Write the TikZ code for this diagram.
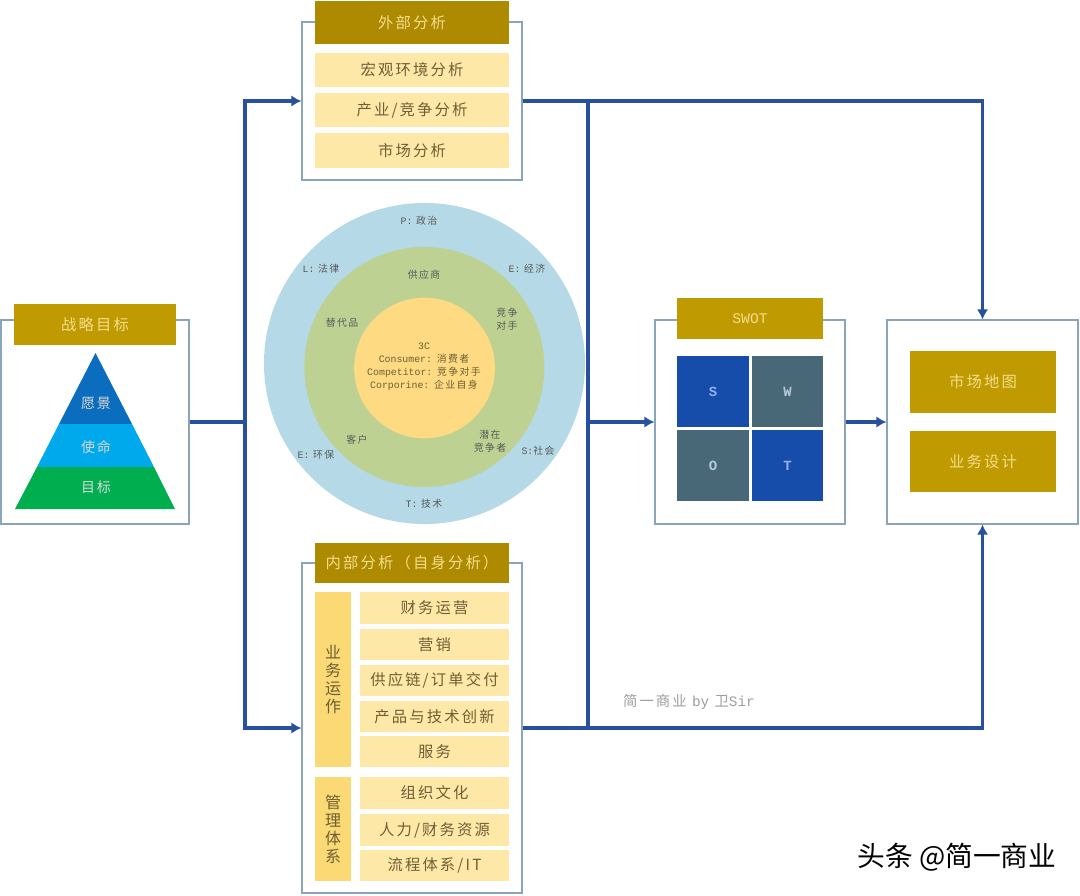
\documentclass[tikz,border=0pt]{standalone}
\usepackage{fontspec}
\setmainfont{Noto Sans CJK SC}
\newfontfamily\cjk[LetterSpace=14]{Noto Sans CJK SC}
\newfontfamily\lat{Liberation Mono}
\usetikzlibrary{arrows.meta}
\definecolor{frameC}{HTML}{8AA5BA}
\definecolor{goldA}{HTML}{BF9A00}
\definecolor{goldB}{HTML}{AD8A00}
\definecolor{itemC}{HTML}{FEE8A8}
\definecolor{colC}{HTML}{FBD975}
\definecolor{itemT}{HTML}{6E5E34}
\definecolor{headT}{HTML}{F6DD8C}
\definecolor{blueT}{HTML}{174DAA}
\definecolor{slateT}{HTML}{486878}
\definecolor{lineC}{HTML}{27509F}
\definecolor{outerC}{HTML}{B5D9E7}
\definecolor{midC}{HTML}{BDD292}
\definecolor{innerC}{HTML}{FEDB82}
\definecolor{pyrA}{HTML}{0A6DBE}
\definecolor{pyrB}{HTML}{00A8EC}
\definecolor{pyrC}{HTML}{00AE50}
\definecolor{tileSoft}{HTML}{8FB4EE}
\definecolor{tileGrey}{HTML}{B5CAD6}
\tikzset{
  x=0.75pt,y=-0.75pt,
  pframe/.style={draw=frameC,line width=0.85pt,fill=white},
  head/.style={fill=goldB,text=headT,font=\cjk\fontsize{11.5}{14}\selectfont},
  headlight/.style={fill=goldA,text=headT,font=\cjk\fontsize{11.5}{14}\selectfont},
  item/.style={fill=itemC,text=itemT,font=\cjk\fontsize{11.5}{14}\selectfont},
  col/.style={fill=colC,text=itemT,align=center,font=\cjk\fontsize{12}{13.5}\selectfont},
  tile/.style={font=\lat\bfseries\fontsize{10.5}{12}\selectfont},
  ctext/.style={inner sep=0pt,align=center,text=#1,font=\cjk\fontsize{7.4}{10}\selectfont},
  ctext/.default=black!65,
  pyr/.style={inner sep=0pt,text=white!85!black,font=\cjk\fontsize{10.5}{12}\selectfont},
  conn/.style={draw=lineC,line width=2.6pt},
  arrowed/.style={conn,-{Latex[length=7.5pt,width=8.5pt]}},
}
% \bx{name}{x0}{y0}{x1}{y1}{style}{text}
\newcommand{\bx}[7]{%
  \pgfmathsetmacro{\bxw}{(#4-#2)*0.75}%
  \pgfmathsetmacro{\bxh}{(#5-#3)*0.75}%
  \node[rectangle,inner sep=0pt,minimum width=\bxw pt,minimum height=\bxh pt,#6]
    (#1) at ({(#2+#4)/2},{(#3+#5)/2}) {#7};%
}
\begin{document}
\begin{tikzpicture}
\useasboundingbox (0,0) rectangle (1080,895);
\fill[white] (0,0) rectangle (1080,895);

% frames
\bx{goal}{1}{320}{189}{524}{pframe}{}
\bx{ext}{302}{22}{522}{180}{pframe}{}
\bx{int}{302}{563}{522}{893}{pframe}{}
\bx{swot}{655}{320}{845}{524}{pframe}{}
\bx{res}{887}{320}{1078}{524}{pframe}{}

% left block
\bx{goalh}{14}{304}{176}{345}{headlight}{战略目标}
\fill[pyrA] (95.5,353) -- (132,424) -- (59,424) -- cycle;
\fill[pyrB] (59,424) -- (132,424) -- (154,467) -- (37,467) -- cycle;
\fill[pyrC] (37,467) -- (154,467) -- (175,509) -- (15,509) -- cycle;
\node[pyr] (p1) at (96,403) {愿景};
\node[pyr] (p2) at (96,447) {使命};
\node[pyr] (p3) at (96,487) {目标};

% external
\bx{exth}{315}{1}{509}{44}{head}{外部分析}
\bx{e1}{315}{53}{509}{87}{item}{宏观环境分析}
\bx{e2}{315}{93}{509}{127}{item}{产业/竞争分析}
\bx{e3}{315}{133}{509}{168}{item}{市场分析}

% internal
\bx{inth}{315}{543}{509}{583}{head}{内部分析（自身分析）}
\bx{c1}{315}{592}{351}{767}{col}{业\\务\\运\\作}
\bx{c2}{315}{777}{351}{881}{col}{管\\理\\体\\系}
\bx{i1}{360}{592}{509}{624}{item}{财务运营}
\bx{i2}{360}{629}{509}{660}{item}{营销}
\bx{i3}{360}{665}{509}{696}{item}{供应链/订单交付}
\bx{i4}{360}{701}{509}{732}{item}{产品与技术创新}
\bx{i5}{360}{736}{509}{767}{item}{服务}
\bx{i6}{360}{777}{509}{809}{item}{组织文化}
\bx{i7}{360}{814}{509}{846}{item}{人力/财务资源}
\bx{i8}{360}{850}{509}{881}{item}{流程体系/IT}

% circles
\node[circle,fill=outerC,inner sep=0pt,minimum size=240.8pt] (co) at (424.5,363.5) {};
\node[circle,fill=midC,inner sep=0pt,minimum size=180pt] (cm) at (424.3,367) {};
\node[circle,fill=innerC,inner sep=0pt,minimum size=105.5pt] (ci) at (424.5,368) {};
\node[ctext] (t1) at (419,221) {{\lat P:} 政治};
\node[ctext] (t2) at (321,269) {{\lat L:} 法律};
\node[ctext] (t3) at (527,269) {{\lat E:} 经济};
\node[ctext] (t4) at (424,275) {供应商};
\node[ctext] (t5) at (342,323) {替代品};
\node[ctext] (t6) at (507,319) {竞争\\对手};
\node[ctext=itemT] (t7) at (424,367) {{\lat 3C}\\[-0.2pt]{\lat Consumer:} 消费者\\[-0.2pt]{\lat Competitor:} 竞争对手\\[-0.2pt]{\lat Corporine:} 企业自身};
\node[ctext] (t8) at (357,440) {客户};
\node[ctext] (t9) at (490,441) {潜在\\竞争者};
\node[ctext] (t10) at (316,455) {{\lat E:} 环保};
\node[ctext] (t11) at (538,451) {{\lat S:}社会};
\node[ctext] (t12) at (424,504) {{\lat T:} 技术};

% SWOT
\bx{swoth}{677}{298}{823}{339}{headlight,font=\lat\fontsize{11}{14}\selectfont}{SWOT}
\bx{ss}{677}{356}{749}{427}{fill=blueT,text=tileSoft,tile}{S}
\bx{sw}{752}{356}{823}{427}{fill=slateT,text=tileGrey,tile}{W}
\bx{so}{677}{430}{749}{501}{fill=slateT,text=tileGrey,tile}{O}
\bx{st}{752}{430}{823}{501}{fill=blueT,text=tileSoft,tile}{T}

% results
\bx{r1}{910}{351}{1056}{413}{headlight}{市场地图}
\bx{r2}{910}{431}{1056}{492}{headlight}{业务设计}

% connectors
\coordinate (busa) at (245,422);
\coordinate (busb) at (588,422);
\draw[conn] (goal.east) -- (busa);
\draw[arrowed] (busa) |- (ext.west);
\draw[arrowed] (busa) |- (int.west);
\draw[arrowed] (ext.east) -| (res.north);
\draw[arrowed] (int.east) -| (res.south);
\draw[conn] (ext.east -| busb) -- (int.east -| busb);
\draw[arrowed] (busb) -- (swot.west);
\draw[arrowed] (swot.east) -- (res.west);

% captions
\node[inner sep=0pt,text=black!38,font=\cjk\fontsize{10.8}{12}\selectfont] (wm1) at (689,702) {简一商业 {\lat by} 卫{\lat Sir}};
\node[inner sep=0pt,text=black,font=\fontsize{20.8}{24}\selectfont] (wm2) at (957,857) {头条 @简一商业};
\end{tikzpicture}
\end{document}
